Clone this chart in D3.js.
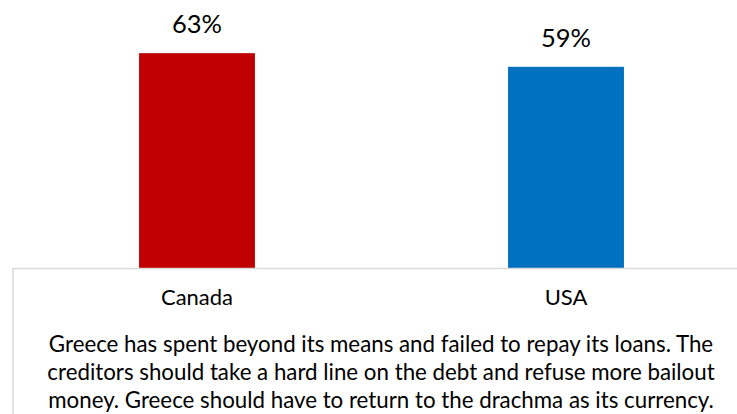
<!DOCTYPE html>
<html>
<head>
<meta charset="utf-8">
<script src="https://cdn.jsdelivr.net/npm/d3@7"></script>
<style>
  body { margin: 0; background: #fff; }
  svg { display: block; font-family: Lato, "Open Sans", sans-serif; }
</style>
</head>
<body>
<div id="chart"></div>
<script>
var categories = ["Canada", "USA"];
var values = [63, 59];
var colors = ["#C00000", "#0070C0"];
var captionLines = [
  "Greece has spent beyond its means and failed to repay its loans. The",
  "creditors should take a hard line on the debt and refuse more bailout",
  "money. Greece should have to return to the drachma as its currency."
];

var width = 737, height = 414;
var baseY = 268;

var svg = d3.select("#chart").append("svg")
  .attr("width", width)
  .attr("height", height);

// scales
var x = d3.scaleBand()
  .domain(categories)
  .range([12.5, 750.5])
  .paddingInner(0.686)
  .paddingOuter(0.343);

var y = d3.scaleLinear()
  .domain([0, 100])
  .range([baseY, baseY - 341]);

// bars
svg.append("g").selectAll("rect")
  .data(values)
  .enter().append("rect")
  .attr("x", function (d, i) { return x(categories[i]); })
  .attr("y", function (d) { return y(d); })
  .attr("width", x.bandwidth())
  .attr("height", function (d) { return baseY - y(d); })
  .attr("fill", function (d, i) { return colors[i]; });

// value labels
svg.append("g").selectAll("text")
  .data(values)
  .enter().append("text")
  .attr("x", function (d, i) { return x(categories[i]) + x.bandwidth() / 2; })
  .attr("y", function (d) { return y(d) - 20; })
  .attr("text-anchor", "middle")
  .attr("font-size", 25.5)
  .attr("fill", "#000")
  .text(function (d) { return d + "%"; });

// axis box lines
svg.append("line")
  .attr("x1", 12.5).attr("x2", width)
  .attr("y1", baseY + 0.5).attr("y2", baseY + 0.5)
  .attr("stroke", "#d9d9d9").attr("stroke-width", 1.5);
svg.append("line")
  .attr("x1", 13).attr("x2", 13)
  .attr("y1", baseY).attr("y2", height)
  .attr("stroke", "#d9d9d9").attr("stroke-width", 1.5);

// category labels
svg.append("g").selectAll("text")
  .data(categories)
  .enter().append("text")
  .attr("x", function (d) { return x(d) + x.bandwidth() / 2; })
  .attr("y", 305)
  .attr("text-anchor", "middle")
  .attr("font-size", 22)
  .attr("fill", "#000")
  .text(function (d) { return d; });

// caption under the axis
svg.append("g").selectAll("text")
  .data(captionLines)
  .enter().append("text")
  .attr("x", 381)
  .attr("y", function (d, i) { return 352 + i * 28; })
  .attr("text-anchor", "middle")
  .attr("font-size", 22.3)
  .attr("fill", "#000")
  .text(function (d) { return d; });
</script>
</body>
</html>
